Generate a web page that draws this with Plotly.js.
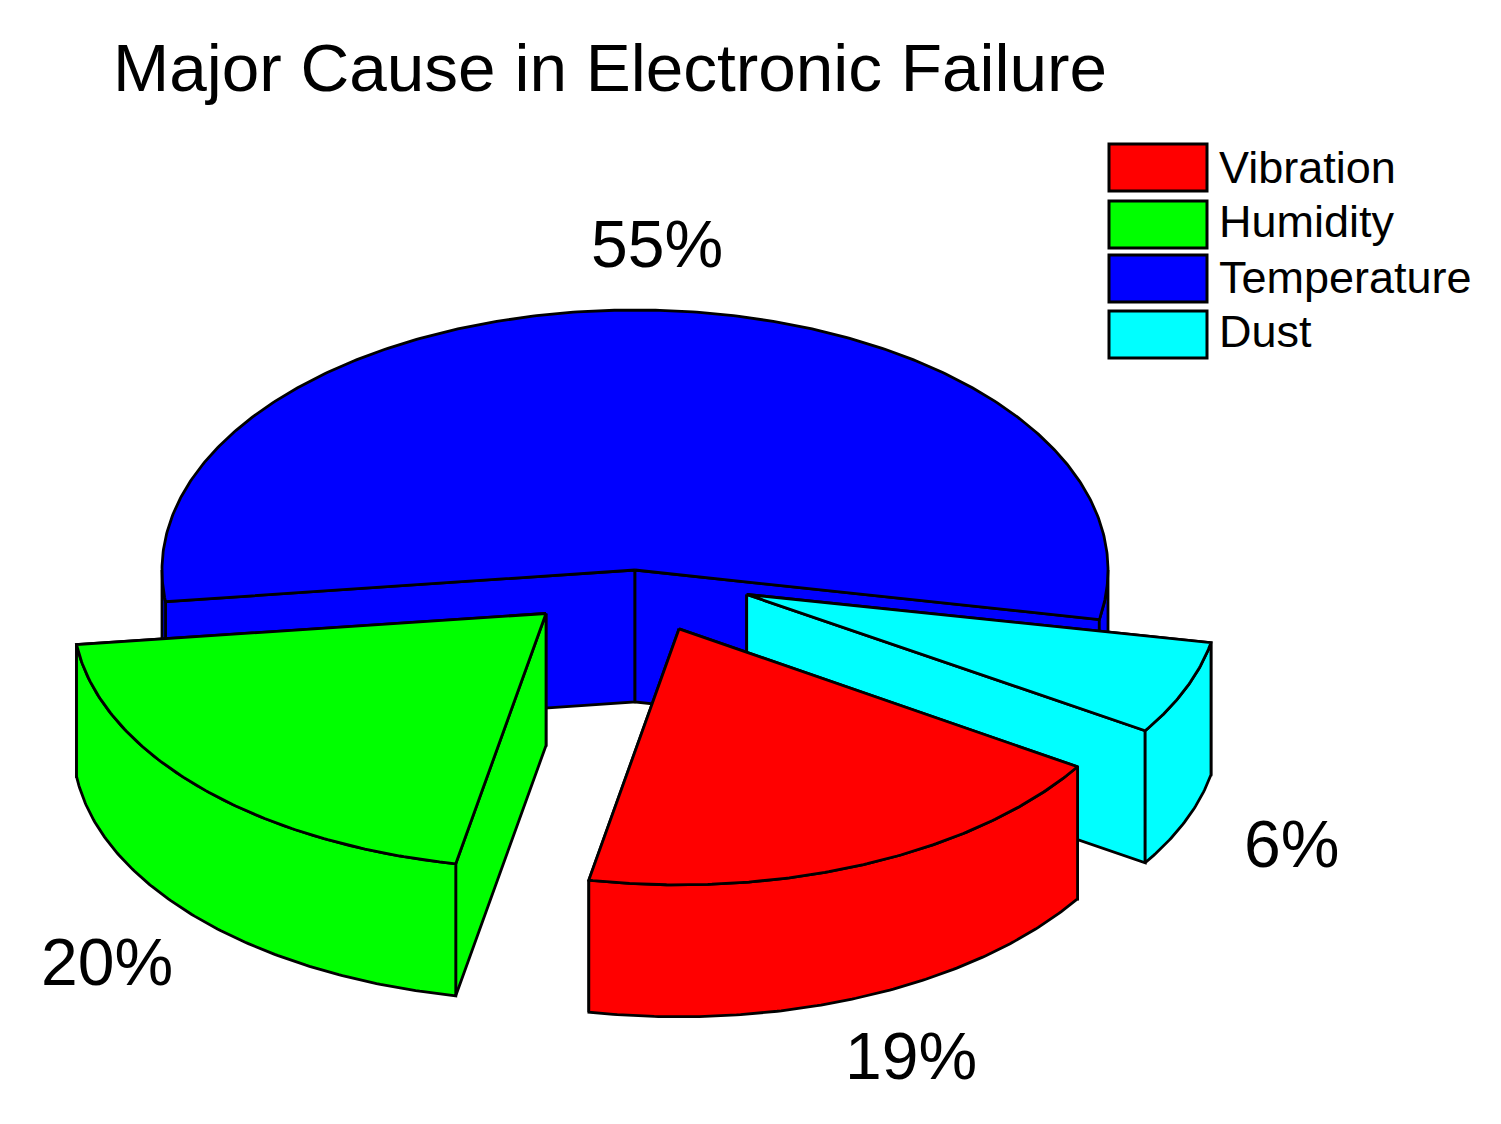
<!DOCTYPE html>
<html>
<head>
<meta charset="utf-8">
<script src="https://cdn.plot.ly/plotly-3.0.1.min.js"></script>
<style>html,body{margin:0;padding:0;background:#fff}#chart{width:1501px;height:1124px}</style>
</head>
<body>
<div id="chart"></div>
<script>
// ---- data ----
const categories = ["Vibration", "Humidity", "Temperature", "Dust"];
const values = [19, 20, 55, 6];
const colors = ["#ff0000", "#00ff00", "#0000ff", "#00ffff"];
const titleText = "Major Cause in Electronic Failure";

// ---- 3D pie projection (pixel-scaled hidden axes) ----
const pie = {cy: 570, rx: 473, depth: 132, startDeg: -32.6,
             cx: [632.5, 632.5, 635, 632.5], ry: [256, 255, 260, 253], pull: [0.25, 0.25, 0, 0.26]};
const drawOrder = [2, 3, 1, 0];
const labelCenters = [[911, 1056], [107, 962], [657, 244], [1291, 844]];
const legendBoxes = {x0: 1109, x1: 1207, h: 47, tops: [144, 201, 255, 311], textX: 1219, textY: [167, 221, 277, 331]};
const edge = {color: "#000000", width: 2.8};

const total = values.reduce((a, b) => a + b, 0);
const rad = d => d * Math.PI / 180;
function spans() {
  let a = pie.startDeg; // slices run clockwise
  return values.map(v => { const hi = a; a -= v / total * 360; return [a, hi]; });
}
const angleSpans = spans();

function arc(ox, oy, ry, a0, a1) {
  const n = Math.max(2, Math.ceil(Math.abs(a1 - a0) * 2));
  const xs = [], ys = [];
  for (let i = 0; i <= n; i++) {
    const t = rad(a0 + (a1 - a0) * i / n);
    xs.push(ox + pie.rx * Math.cos(t));
    ys.push(oy - ry * Math.sin(t));
  }
  return [xs, ys];
}
function poly(xs, ys, color, name) {
  return {type: "scatter", mode: "lines", x: xs.concat(xs[0]), y: ys.concat(ys[0]), fill: "toself",
          fillcolor: color, line: {color: edge.color, width: edge.width}, name: name,
          showlegend: false, hoverinfo: "skip"};
}
const traces = [];
drawOrder.forEach(i => {
  const [lo, hi] = angleSpans[i];
  const ry = pie.ry[i];
  const mid = rad((lo + hi) / 2), p = pie.pull[i];
  const ox = pie.cx[i] + p * pie.rx * Math.cos(mid), oy = pie.cy - p * ry * Math.sin(mid);
  // cut faces, farther rim corner first so the nearer face overlaps it
  [lo, hi].sort((a, b) => Math.sin(rad(b)) - Math.sin(rad(a))).forEach(a => {
    const ex = ox + pie.rx * Math.cos(rad(a)), ey = oy - ry * Math.sin(rad(a));
    traces.push(poly([ox, ex, ex, ox], [oy, ey, ey + pie.depth, oy + pie.depth], colors[i], categories[i]));
  });
  // outer wall: only the parts of the rim facing the viewer (180..360 degrees)
  for (let k = -2; k <= 1; k++) {
    const a0 = Math.max(lo, 180 + 360 * k), a1 = Math.min(hi, 360 + 360 * k);
    if (a1 > a0) {
      const [tx, ty] = arc(ox, oy, ry, a0, a1), [bx, by] = arc(ox, oy + pie.depth, ry, a1, a0);
      traces.push(poly(tx.concat(bx), ty.concat(by), colors[i], categories[i]));
    }
  }
  // top face
  const [tx, ty] = arc(ox, oy, ry, lo, hi);
  traces.push(poly([ox].concat(tx), [oy].concat(ty), colors[i], categories[i]));
});

const annotations = [], shapes = [];
const font = "Liberation Sans, Arial, sans-serif";
values.forEach((v, i) => {
  annotations.push({xref: "x", yref: "y", x: labelCenters[i][0], y: labelCenters[i][1], showarrow: false,
    text: Math.round(v / total * 100) + "%", xanchor: "center", yanchor: "middle",
    font: {family: font, size: 66, color: "#000"}});
  annotations.push({xref: "x", yref: "y", x: legendBoxes.textX, y: legendBoxes.textY[i], showarrow: false,
    text: categories[i], xanchor: "left", yanchor: "middle", xshift: -2,
    font: {family: font, size: 45, color: "#000"}});
  shapes.push({type: "rect", xref: "x", yref: "y", x0: legendBoxes.x0, x1: legendBoxes.x1,
    y0: legendBoxes.tops[i], y1: legendBoxes.tops[i] + legendBoxes.h,
    fillcolor: colors[i], line: {color: "#000", width: 3}});
});

const hidden = {visible: false, fixedrange: true};
const layout = {
  width: 1501, height: 1124, margin: {l: 0, r: 0, t: 0, b: 0, pad: 0},
  paper_bgcolor: "#fff", plot_bgcolor: "#fff", showlegend: false,
  title: {text: titleText, xref: "paper", yref: "paper", x: 113 / 1501, xanchor: "left", y: 1 - 67 / 1124, yanchor: "middle",
          font: {family: font, size: 67.5, color: "#000"}},
  xaxis: Object.assign({range: [0, 1501]}, hidden),
  yaxis: Object.assign({range: [1124, 0]}, hidden),
  annotations, shapes
};
Plotly.newPlot("chart", traces, layout, {displayModeBar: false, staticPlot: true});
</script>
</body>
</html>
